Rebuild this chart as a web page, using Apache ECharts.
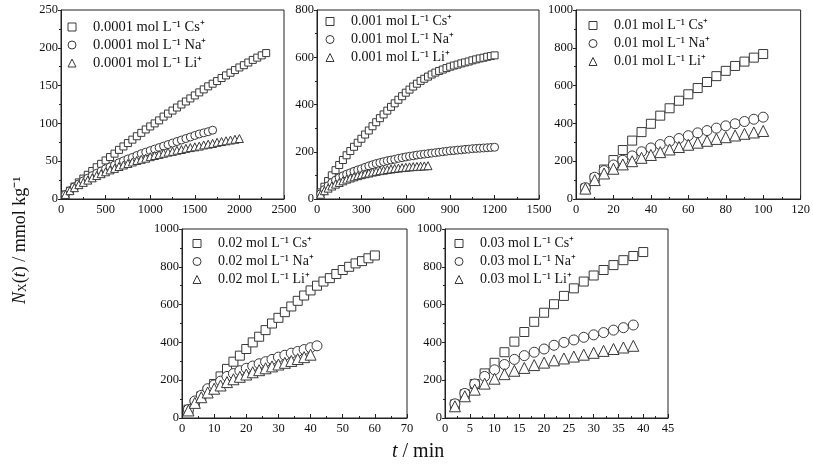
<!DOCTYPE html>
<html><head><meta charset="utf-8">
<script src="https://cdn.jsdelivr.net/npm/echarts@6/dist/echarts.min.js"></script>
<style>html,body{margin:0;padding:0;background:#fff}#c{width:813px;height:469px}</style>
</head><body><div id="c"></div>
<script>
// ---------- DATA ----------
// Panel 1: 0.0001 mol/L
const t1Cs = [50,100,150,200,250,300,350,400,450,500,550,600,650,700,750,800,850,900,950,1000,1050,1100,1150,1200,1250,1300,1350,1400,1450,1500,1550,1600,1650,1700,1750,1800,1850,1900,1950,2000,2050,2100,2150,2200,2250,2300];
const n1Cs = [6,11,16.5,22,27,32,37,42,46.5,51,55.5,60,65,69.5,74,78.5,83,87.5,92,96,100,104,109,113,117,121,125,129,133,137,141,145,149,152.5,156,160,163.5,167,170.5,174,177,180.5,184,187,190,193];
const t1Na = [50,100,150,200,250,300,350,400,450,500,550,600,650,700,750,800,850,900,950,1000,1050,1100,1150,1200,1250,1300,1350,1400,1450,1500,1550,1600,1650,1700];
const n1Na = [6,11,16,20,24,27.5,31,34,37,40,42.5,45,48,50.5,53,55,57.5,60,62,64,66,68,70,72,74,76,78,80,82,84,86,87.5,89,91];
const t1Li = [50,100,150,200,250,300,350,400,450,500,550,600,650,700,750,800,850,900,950,1000,1050,1100,1150,1200,1250,1300,1350,1400,1450,1500,1550,1600,1650,1700,1750,1800,1850,1900,1950,2000];
const n1Li = [6,11,15,19,22,25,28,31,33.5,36,38.5,40.5,43,45,47,49,51,52.5,54,56,57.5,59,60.5,62,63,64.5,65.5,67,68,69,70,71.5,72.5,73.5,75,76,77,78,79,80];
// Panel 2: 0.001 mol/L
const t2Cs = [25,50,75,100,125,150,175,200,225,250,275,300,325,350,375,400,425,450,475,500,525,550,575,600,625,650,675,700,725,750,775,800,825,850,875,900,925,950,975,1000,1025,1050,1075,1100,1125,1150,1175,1200];
const n2Cs = [28,52,76,100,122,144,165,185,203,221,238,255,273,290,308,325,342,358,374,390,405,420,435,450,463,476,488,500,509,518,527,535,542,548,554,560,565,569,574,578,582,587,591,595,598,602,605,608];
const t2Na = [25,50,75,100,125,150,175,200,225,250,275,300,325,350,375,400,425,450,475,500,525,550,575,600,625,650,675,700,725,750,775,800,825,850,875,900,925,950,975,1000,1025,1050,1075,1100,1125,1150,1175,1200];
const n2Na = [22,40,56,70,80,90,98,105,111,117,123,128,134,140,145,150,154,158,162,165,168,172,175,178,181,183,186,188,190,192,194,196,198,200,202,204,205,207,208,210,211,213,214,215,216,217,218,219];
const t2Li = [25,50,75,100,125,150,175,200,225,250,275,300,325,350,375,400,425,450,475,500,525,550,575,600,625,650,675,700,725,750];
const n2Li = [20,35,46,55,63,70,77,84,89,94,99,103,107,110,114,117,120,122,125,127,129,131,133,134,136,137,138,139,140,141];
// Panel 3: 0.01 mol/L
const t3 = [5,10,15,20,25,30,35,40,45,50,55,60,65,70,75,80,85,90,95,100];
const n3Cs = [56,110,156,206,259,309,354,398,441,480,520,554,587,619,650,678,704,727,748,767];
const n3Na = [60,115,150,180,205,228,250,270,288,305,320,335,350,362,375,387,398,410,422,433];
const n3Li = [55,100,135,160,183,200,218,233,248,262,275,287,298,308,318,327,336,345,352,360];
// Panel 4: 0.02 mol/L
const t4Cs = [2,4,6,8,10,12,14,16,18,20,22,24,26,28,30,32,34,36,38,40,42,44,46,48,50,52,54,56,58,60];
const n4Cs = [44,80,115,145,180,220,260,298,330,365,400,430,465,500,530,560,590,620,648,675,700,722,740,762,783,800,818,830,845,860];
const t4Na = [2,4,6,8,10,12,14,16,18,20,22,24,26,28,30,32,34,36,38,40,42];
const n4Na = [45,90,120,155,175,195,220,235,250,263,275,287,298,310,322,332,343,352,362,372,382];
const t4Li = [2,4,6,8,10,12,14,16,18,20,22,24,26,28,30,32,34,36,38,40];
const n4Li = [40,80,110,135,155,172,190,205,218,230,242,253,263,273,283,292,302,312,322,335];
// Panel 5: 0.03 mol/L
const t5Cs = [2,4,6,8,10,12,14,16,18,20,22,24,26,28,30,32,34,36,38,40];
const n5Cs = [72,126,180,236,292,348,404,455,509,557,602,646,686,722,754,783,809,835,857,878];
const t5 = [2,4,6,8,10,12,14,16,18,20,22,24,26,28,30,32,34,36,38];
const n5Na = [75,130,180,220,255,283,310,330,348,365,385,400,413,427,440,452,465,478,492];
const n5Li = [62,115,150,182,208,232,250,265,280,293,305,315,325,335,345,355,365,373,382];

const concs = ['0.0001','0.001','0.01','0.02','0.03'];
const ions = ['Cs','Na','Li'];
const xMax = [2500,1500,120,70,45];
const xStep = [500,300,20,10,5];
const yMax = [250,800,1000,1000,1000];
const yStep = [50,200,200,200,200];

// ---------- LAYOUT ----------
const grids = [
  {left:61, top:10, width:223, height:189},
  {left:317, top:10, width:222, height:189},
  {left:576, top:10, width:226, height:189},
  {left:182, top:229, width:225, height:189},
  {left:445, top:229, width:223, height:189}
];
const legendPos = [
  {left:67.5, top:19.5}, {left:325.5, top:14}, {left:588.5, top:18}, {left:192.5, top:236}, {left:454.5, top:236}
];
const legendFont = [14.5, 14, 14, 14, 14];
const seriesData = [
  [[t1Cs,n1Cs],[t1Na,n1Na],[t1Li,n1Li]],
  [[t2Cs,n2Cs],[t2Na,n2Na],[t2Li,n2Li]],
  [[t3,n3Cs],[t3,n3Na],[t3,n3Li]],
  [[t4Cs,n4Cs],[t4Na,n4Na],[t4Li,n4Li]],
  [[t5Cs,n5Cs],[t5,n5Na],[t5,n5Li]]
];
const symbols = ['rect','circle','triangle'];
const symSize = [[7,8,8],[7,8,8],[9,10,11],[9,10,11],[9,10,11]];
const FONT = '"Liberation Serif","Times New Roman",serif';
const INK = '#383838';

const option = {
  backgroundColor:'#fff',
  animation:false,
  grid: grids.map(g => Object.assign({show:true, borderColor:'#222', borderWidth:1, backgroundColor:'transparent'}, g)),
  xAxis: grids.map((g,i) => ({
    type:'value', gridIndex:i, min:0, max:xMax[i], interval:xStep[i],
    axisLine:{show:true, onZero:false, lineStyle:{color:'#222', width:1}},
    axisTick:{show:true, inside:true, length:4, lineStyle:{color:'#222'}},
    minorTick:{show:true, splitNumber:2, length:2, lineStyle:{color:'#222'}},
    splitLine:{show:false},
    axisLabel:{color:'#111', fontFamily:FONT, fontSize:12.5, margin:4, showMaxLabel:true, formatter: v => String(v)}
  })),
  yAxis: grids.map((g,i) => ({
    type:'value', gridIndex:i, min:0, max:yMax[i], interval:yStep[i],
    axisLine:{show:true, onZero:false, lineStyle:{color:'#222', width:1}},
    axisTick:{show:true, inside:false, length:3, lineStyle:{color:'#222'}},
    minorTick:{show:true, splitNumber:2, length:2, lineStyle:{color:'#222'}},
    splitLine:{show:false},
    axisLabel:{color:'#111', fontFamily:FONT, fontSize:12.5, margin:3, formatter: v => String(v)}
  })),
  legend: [],
  series: [],
  graphic: [
    {type:'text', left:392, top:442, style:{
      text:'{i|t} / min', fill:'#111', font:'20px ' + FONT,
      rich:{i:{fontStyle:'italic', fontSize:20, fontFamily:FONT, fill:'#111'}}
    }},
    {type:'text', x:11, y:304, rotation:Math.PI/2, style:{
      text:'{i|N}{sub|X}({i|t}) / mmol kg⁻¹', fill:'#111', font:'18px ' + FONT,
      rich:{
        i:{fontStyle:'italic', fontSize:18, fontFamily:FONT, fill:'#111'},
        sub:{fontSize:12, fontFamily:FONT, fill:'#111', padding:[6,0,0,0]}
      }
    }}
  ]
};

for (let p = 0; p < 5; p++) {
  const names = [];
  for (let k = 0; k < 3; k++) {
    const name = concs[p] + ' mol L⁻¹ ' + ions[k] + '⁺';
    names.push(name);
    const [ts, vs] = seriesData[p][k];
    option.series.push({
      type:'scatter', name:name, xAxisIndex:p, yAxisIndex:p,
      symbol:symbols[k], symbolSize:symSize[p][k],
      itemStyle:{color:'#fff', borderColor:INK, borderWidth:1, opacity:1},
      data: ts.map((t,j) => [t, vs[j]])
    });
  }
  option.legend.push(Object.assign({
    data:names, orient:'vertical', itemWidth:8, itemHeight:8, itemGap:3, padding:0,
    selectedMode:false,
    itemStyle:{color:'#fff', borderColor:INK, borderWidth:1},
    textStyle:{color:'#111', fontFamily:FONT, fontSize:legendFont[p], lineHeight:15, padding:[0,0,0,12]}
  }, legendPos[p]));
}

const chart = echarts.init(document.getElementById('c'), null, {renderer:'canvas'});
chart.setOption(option);
</script></body></html>
